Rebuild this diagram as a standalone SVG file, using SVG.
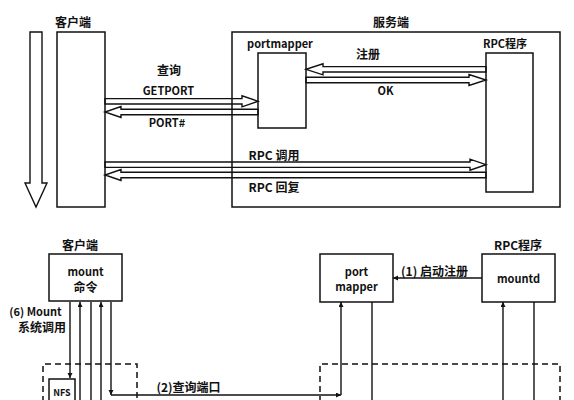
<svg xmlns="http://www.w3.org/2000/svg" width="574" height="400" viewBox="0 0 574 400">
<style>
text{font-family:"Noto Sans CJK SC","Liberation Sans",sans-serif;font-weight:bold;fill:#111;text-anchor:middle}
.t12{font-size:12px}
.t11{font-size:11px}
.box{fill:#fff;stroke:#111;stroke-width:1.5}
.blk{fill:none;stroke:#111;stroke-width:1.4;stroke-linejoin:miter}
.ln{fill:none;stroke:#111;stroke-width:1.4}
.dash{fill:none;stroke:#111;stroke-width:1.5;stroke-dasharray:6 4}
.arr{marker-end:url(#ah)}
</style>
<defs>
<marker id="ah" markerUnits="userSpaceOnUse" markerWidth="6" markerHeight="6" refX="5" refY="2.5" orient="auto">
<path d="M0,0 L5,2.5 L0,5 z" fill="#111"/>
</marker>
</defs>
<rect width="574" height="400" fill="#fff"/>

<!-- top section -->
<g id="time-arrow">
<polygon class="blk" points="30,32 42,32 42,183 47,183 36,207 25,183 30,183"/>
</g>
<g id="server">
<rect class="box" x="232" y="32" width="328" height="175"/>
<text class="t12" x="391" y="27">服务端</text>
</g>
<g id="client-top">
<rect class="box" x="57" y="32" width="48" height="175"/>
<text class="t12" x="73" y="27">客户端</text>
</g>
<g id="portmapper-top">
<rect class="box" x="258" y="53" width="48" height="75"/>
<text class="t11" x="280" y="48">portmapper</text>
</g>
<g id="rpc-top">
<rect class="box" x="486" y="53" width="47" height="139"/>
<text class="t11" x="505" y="48">RPC程序</text>
</g>

<g id="connectors">
<!-- GETPORT -->
<polygon class="blk" points="105,98.6 242,98.6 242,95.8 258,101.3 242,106.8 242,104 105,104"/>
<!-- PORT# -->
<polygon class="blk" points="258,109.3 121,109.3 121,106.5 105,112 121,117.5 121,114.7 258,114.7"/>
<!-- 注册 -->
<polygon class="blk" points="486,66.6 323,66.6 323,63.8 306,69.3 323,74.8 323,72 486,72"/>
<!-- OK -->
<polygon class="blk" points="306,77.3 469,77.3 469,74.5 486,80 469,85.5 469,82.7 306,82.7"/>
<!-- RPC 调用 -->
<polygon class="blk" points="105,162 470,162 470,159.2 486,164.7 470,170.2 470,167.4 105,167.4"/>
<!-- RPC 回复 -->
<polygon class="blk" points="486,172.3 121,172.3 121,169.5 105,175 121,180.5 121,177.7 486,177.7"/>

<!-- bottom connectors -->
<line class="ln arr" x1="70" y1="302" x2="70" y2="378"/>
<line class="ln arr" x1="80" y1="400" x2="80" y2="302"/>
<line class="ln" x1="91" y1="302" x2="91" y2="400"/>
<line class="ln arr" x1="101" y1="400" x2="101" y2="302"/>
<line class="ln arr" x1="111" y1="302" x2="111" y2="395"/>
<line class="ln arr" x1="111" y1="395" x2="341" y2="395"/>
<line class="ln arr" x1="341" y1="395" x2="341" y2="302"/>
<line class="ln" x1="372" y1="302" x2="372" y2="400"/>
<line class="ln arr" x1="503" y1="400" x2="503" y2="302"/>
<line class="ln" x1="534" y1="302" x2="534" y2="400"/>
<line class="ln arr" x1="482" y1="278" x2="393" y2="278"/>
</g>

<g id="labels">
<text class="t12" x="169" y="75">查询</text>
<text class="t11" x="168.5" y="95">GETPORT</text>
<text class="t11" x="167" y="127">PORT#</text>
<text class="t12" x="368" y="59">注册</text>
<text class="t11" x="385.5" y="95">OK</text>
<text class="t12" x="274" y="159.5">RPC 调用</text>
<text class="t12" x="274" y="191.5">RPC 回复</text>
<text class="t11" x="35.5" y="316">(6) Mount</text>
<text class="t12" x="42" y="331.5">系统调用</text>
<text class="t12" x="188.5" y="391.5">(2)查询端口</text>
<text class="t12" x="434.5" y="275.5">(1) 启动注册</text>
</g>

<!-- bottom section -->
<g id="dashed-left">
<path class="dash" d="M43,402 L43,364 L137,364 L137,402"/>
</g>
<g id="dashed-right">
<path class="dash" d="M320,402 L320,364 L560,364 L560,402"/>
</g>
<g id="mount">
<rect class="box" x="49" y="254" width="73" height="47"/>
<text class="t11" x="85.5" y="276">mount</text>
<text class="t12" x="85.5" y="291.5">命令</text>
<text class="t12" x="80" y="249.5">客户端</text>
</g>
<g id="nfs">
<rect class="box" x="49" y="379" width="26" height="30"/>
<text x="62" y="396" style="font-size:9px">NFS</text>
</g>
<g id="portmapper-bottom">
<rect class="box" x="320" y="254" width="73" height="48"/>
<text class="t11" x="356.5" y="276">port</text>
<text class="t11" x="356.5" y="291">mapper</text>
</g>
<g id="mountd">
<rect class="box" x="482" y="254" width="73" height="48"/>
<text class="t11" x="518.5" y="283">mountd</text>
<text class="t12" x="518" y="249.5">RPC程序</text>
</g>
</svg>
